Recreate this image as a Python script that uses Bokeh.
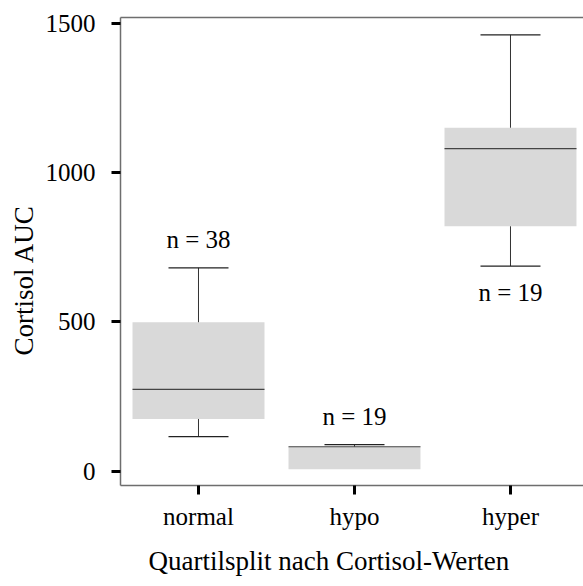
from bokeh.plotting import figure
from bokeh.models import ColumnDataSource, Range1d, FixedTicker, LinearAxis, Title
from bokeh.embed import file_html
from bokeh.resources import INLINE
from bokeh.core.properties import value

# ---- data ----
categories = ["normal", "hypo", "hyper"]
lower = [116, 7, 687]
q1 = [175, 7, 820]
median = [274, 82, 1080]
q3 = [499, 82, 1150]
upper = [681, 89, 1461]
n_counts = [38, 19, 19]
label_below = [False, False, True]
y_ticks = [0, 500, 1000, 1500]

FONT = "Liberation Serif"
FS = "25px"
TFS = "27px"
FRAME = "#6e6e6e"

x = [i + 0.5 for i in range(len(categories))]
src = ColumnDataSource(dict(
    x=x, lower=lower, q1=q1, median=median, q3=q3, upper=upper,
    label=[f"n = {n}" for n in n_counts],
    ly=[lo if b else up for lo, up, b in zip(lower, upper, label_below)],
    loff=[26 if b else -28 for b in label_below],
    lo_alpha=[1.0 if lo < a else 0.0 for lo, a in zip(lower, q1)],
    hi_alpha=[1.0 if hi > b else 0.0 for hi, b in zip(upper, q3)],
))

p = figure(width=583, height=586, output_backend="svg", toolbar_location=None,
           x_range=Range1d(0, 2.968), y_range=Range1d(-47.7, 1519),
           min_border_left=0, min_border_right=0, min_border_top=17,
           min_border_bottom=0)
p.background_fill_color = "white"
p.border_fill_color = "white"
p.outline_line_color = None
p.xgrid.visible = False
p.ygrid.visible = False

# boxes
p.vbar(x="x", width=0.846, bottom="q1", top="q3", source=src,
       fill_color="#d9d9d9", line_color=None)
# whiskers
p.segment(x0="x", y0="q3", x1="x", y1="upper", source=src, line_color="#333333", line_width=1)
p.segment(x0="x", y0="q1", x1="x", y1="lower", source=src, line_color="#333333", line_width=1)
# caps
p.dash(x="x", y="upper", source=src, size=60, line_color="#222222", line_width=1.2,
       line_alpha="hi_alpha")
p.dash(x="x", y="lower", source=src, size=60, line_color="#222222", line_width=1.2,
       line_alpha="lo_alpha")
# medians
p.dash(x="x", y="median", source=src, size=132, line_color="#444444", line_width=1.2)

# n labels
p.text(x="x", y="ly", text="label", y_offset="loff", source=src,
       text_font=value(FONT), text_font_size=FS, text_align="center",
       text_baseline="middle", text_color="black")

# axes
for ax in (p.xaxis[0], p.yaxis[0]):
    ax.axis_line_color = FRAME
    ax.axis_line_width = 1.5
    ax.major_tick_in = 0
    ax.major_tick_out = 9
    ax.major_tick_line_width = 3
    ax.major_tick_line_color = "black"
    ax.minor_tick_line_color = None
    ax.major_label_text_font = FONT
    ax.major_label_text_font_size = FS
    ax.major_label_text_color = "black"

p.xaxis.ticker = FixedTicker(ticks=x)
p.xaxis.major_label_overrides = {xx: c for xx, c in zip(x, categories)}
p.xaxis.major_label_standoff = 8

p.yaxis.ticker = FixedTicker(ticks=y_ticks)
p.yaxis.major_label_standoff = 16

# top frame line (plain axis with nothing but its line)
top = LinearAxis(axis_line_color=FRAME, axis_line_width=1.5,
                 major_tick_line_color=None, minor_tick_line_color=None,
                 major_label_text_font_size="0px", ticker=FixedTicker(ticks=[]))
p.add_layout(top, "above")

# axis titles, placed like the reference
xtitle = Title(text="Quartilsplit nach Cortisol-Werten", align="left", offset=28,
               standoff=22, text_font=FONT, text_font_size=TFS,
               text_font_style="normal", text_color="black")
p.add_layout(xtitle, "below")
ytitle = Title(text="Cortisol AUC", align="left", offset=130, standoff=7,
               text_font=FONT, text_font_size=TFS, text_font_style="normal",
               text_color="black")
p.add_layout(ytitle, "left")
p.min_border_left = 120
p.min_border_bottom = 99

open("out.html", "w").write(file_html(p, INLINE))
